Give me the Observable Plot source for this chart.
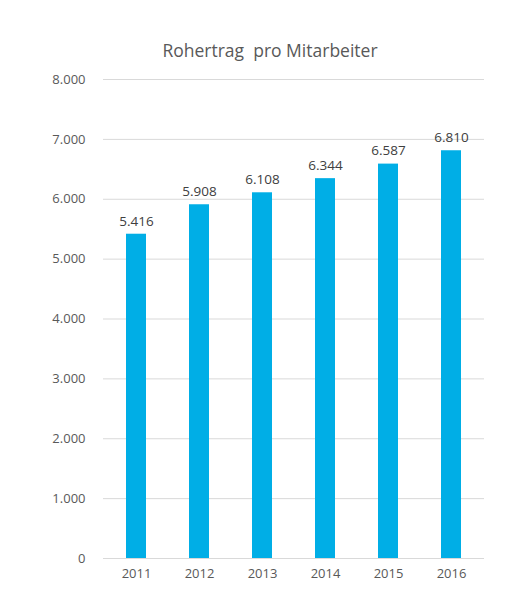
<!DOCTYPE html>
<html><head><meta charset="utf-8">
<script src="https://cdn.jsdelivr.net/npm/d3@7"></script>
<script src="https://cdn.jsdelivr.net/npm/@observablehq/plot@0.6"></script>
<style>
body{margin:0;background:#fff;font-family:"Open Sans",sans-serif;}
#title{height:65px;box-sizing:border-box;padding-top:38px;text-align:center;font-size:17.5px;line-height:24px;color:#595959;padding-left:32px;}
</style></head><body>
<div id="title">Rohertrag&nbsp; pro Mitarbeiter</div>
<div id="chart"></div>
<script>
const years = ["2011","2012","2013","2014","2015","2016"];
const values = [5416, 5908, 6108, 6344, 6587, 6810];
const yTicks = [0,1000,2000,3000,4000,5000,6000,7000,8000];

const de = d3.formatLocale({decimal:",", thousands:".", grouping:[3], currency:["","€"]});
const fmt = de.format(",d");
const data = years.map((y,i)=>({year:y, value:values[i]}));

const chart = Plot.plot({
  width:508, height:535,
  marginTop:14, marginBottom:42, marginLeft:103, marginRight:24,
  style:{fontFamily:"Open Sans, sans-serif", fontSize:"13px", color:"#595959"},
  x:{domain:years, paddingInner:0.685, paddingOuter:0.3425, label:null, tickSize:0, tickPadding:10},
  y:{domain:[0,8000], ticks:yTicks, tickFormat:fmt, label:null, tickSize:0, tickPadding:18},
  marks:[
    Plot.gridY(yTicks, {stroke:"#d9d9d9", strokeOpacity:1}),
    Plot.barY(data, {x:"year", y:"value", fill:"#00aee6"}),
    Plot.text(data, {x:"year", y:"value", text:d=>fmt(d.value), dy:-13, fill:"#404040", fontSize:13.5})
  ]
});
document.getElementById("chart").appendChild(chart);
</script>
</body></html>
